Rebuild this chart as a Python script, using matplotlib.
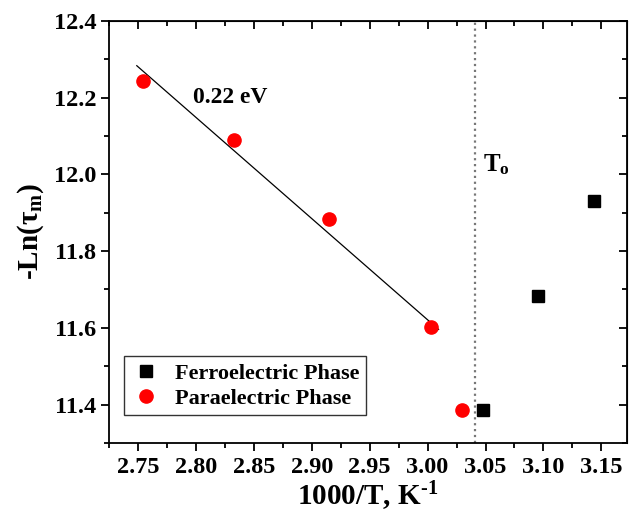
import numpy as np
import matplotlib
matplotlib.use('Agg')
import matplotlib.pyplot as plt
from matplotlib.ticker import MultipleLocator

plt.rcParams['font.family'] = ['Liberation Serif', 'DejaVu Serif']
plt.rcParams['font.weight'] = 'bold'
plt.rcParams['mathtext.fontset'] = 'custom'
plt.rcParams['mathtext.rm'] = 'Liberation Serif:bold'
plt.rcParams['mathtext.it'] = 'Liberation Serif:bold'
plt.rcParams['mathtext.bf'] = 'Liberation Serif:bold'
plt.rcParams['mathtext.default'] = 'rm'
plt.rcParams['axes.unicode_minus'] = False

# data
para_x = [2.7546, 2.8328, 2.9147, 3.0026, 3.0296]
para_y = [12.242, 12.089, 11.883, 11.602, 11.385]
ferro_x = [3.048, 3.0951, 3.1437]
ferro_y = [11.385, 11.684, 11.931]
fit_x = [2.749, 3.0095]
fit_y = [12.283, 11.596]
t_o = 3.0405

x_ticks = [2.75, 2.80, 2.85, 2.90, 2.95, 3.00, 3.05, 3.10, 3.15]
x_labels = ['2.75', '2.80', '2.85', '2.90', '2.95', '3.00', '3.05', '3.10', '3.15']
y_ticks = [11.4, 11.6, 11.8, 12.0, 12.2, 12.4]
y_labels = ['11.4', '11.6', '11.8', '12.0', '12.2', '12.4']

fig = plt.figure(figsize=(6.3, 5.2), dpi=100)
ax = fig.add_axes([0.173, 0.148, 0.822, 0.812])

ax.plot(fit_x, fit_y, color='black', lw=0.9)
ax.axvline(t_o, color='#777777', ls=':', lw=1.6)
ax.plot(ferro_x, ferro_y, 's', color='black', ms=8.5, ls='none', label='Ferroelectric Phase')
ax.plot(para_x, para_y, 'o', color='red', ms=9.5, ls='none', label='Paraelectric Phase')

ax.text(2.7974, 12.187, '0.22 eV', fontsize=17, fontweight='bold')
ax.text(3.0476, 12.008, 'T$_{o}$', fontsize=18, fontweight='bold')

ax.set_xlim(2.725, 3.172)
ax.set_ylim(11.3, 12.4)
ax.set_xticks(x_ticks, x_labels, fontsize=17.5, fontweight='bold')
ax.set_yticks(y_ticks, y_labels, fontsize=17.5, fontweight='bold')
ax.xaxis.set_minor_locator(MultipleLocator(0.025))
ax.yaxis.set_minor_locator(MultipleLocator(0.1))

ax.tick_params(which='both', direction='out', width=1.3)
ax.tick_params(which='major', length=6)
ax.tick_params(which='minor', length=3.5)
ax.tick_params(axis='x', pad=4)
ax.tick_params(axis='y', pad=3)
for s in ax.spines.values():
    s.set_linewidth(1.3)

# mirrored inward ticks on top and right
sec_x = ax.secondary_xaxis('top')
sec_x.set_xticks(x_ticks)
sec_x.xaxis.set_minor_locator(MultipleLocator(0.025))
sec_x.tick_params(which='both', direction='in', width=1.3, labeltop=False)
sec_x.tick_params(which='major', length=6)
sec_x.tick_params(which='minor', length=3.5)
sec_y = ax.secondary_yaxis('right')
sec_y.set_yticks(y_ticks)
sec_y.yaxis.set_minor_locator(MultipleLocator(0.1))
sec_y.tick_params(which='both', direction='in', width=1.3, labelright=False)
sec_y.tick_params(which='major', length=6)
sec_y.tick_params(which='minor', length=3.5)

ax.set_xlabel('1000/T, K$^{\\text{-1}}$', fontsize=21, fontweight='bold', labelpad=1)
ax.set_ylabel('-Ln(τ$_{m}$)', fontsize=21, fontweight='bold', labelpad=6)

leg = ax.legend(loc='lower left', bbox_to_anchor=(0.029, 0.066), borderaxespad=0,
                frameon=True, fancybox=False, edgecolor='black', handletextpad=0.6,
                borderpad=0.3, labelspacing=0.2, handlelength=1.4,
                prop={'weight': 'bold', 'size': 16})
leg.get_frame().set_linewidth(1.0)

fig.savefig('out.png', dpi=100)
